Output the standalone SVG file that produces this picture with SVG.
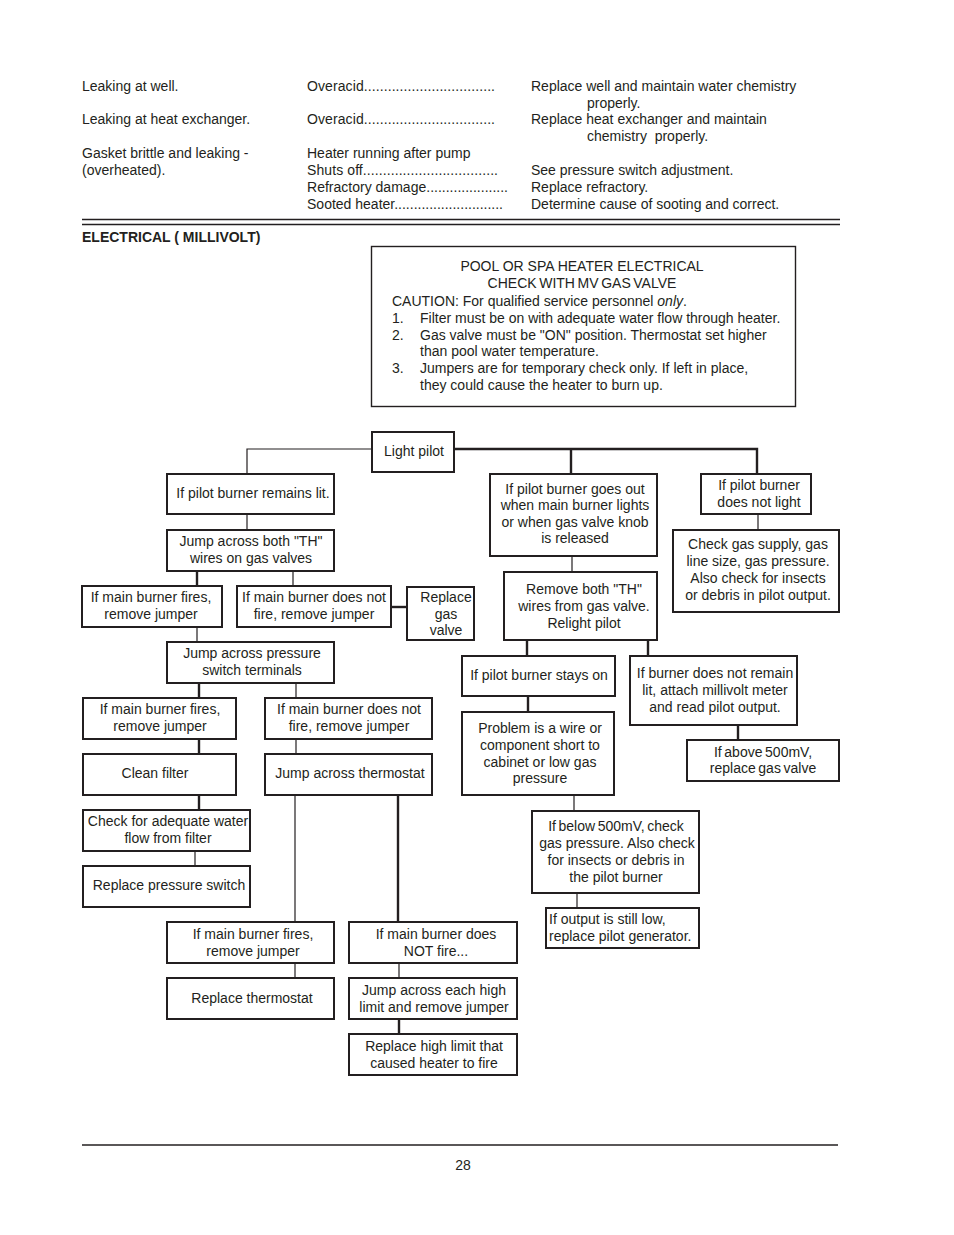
<svg xmlns="http://www.w3.org/2000/svg" width="954" height="1235" viewBox="0 0 954 1235">
<style>
text{font-family:"Liberation Sans",Arial,sans-serif;font-size:14px;fill:#231f20}
.c{text-anchor:middle}
.b{font-weight:bold}
.n rect{fill:#fff;stroke:#231f20;stroke-width:2}
.k{fill:none;stroke:#231f20;stroke-width:1.2}
.t{fill:none;stroke:#231f20;stroke-width:2.4}
.r{stroke:#231f20;stroke-width:1.4}
.nar{word-spacing:-1.3px}
</style>
<rect width="954" height="1235" fill="#fff"/>
<g id="table">
<text x="82" y="91">Leaking at well.</text>
<text x="307" y="91" textLength="188" lengthAdjust="spacing">Overacid.................................</text>
<text x="531" y="91">Replace well and maintain water chemistry</text>
<text x="587" y="108">properly.</text>
<text x="82" y="124">Leaking at heat exchanger.</text>
<text x="307" y="124" textLength="188" lengthAdjust="spacing">Overacid.................................</text>
<text x="531" y="124">Replace heat exchanger and maintain</text>
<text x="587" y="141" xml:space="preserve">chemistry  properly.</text>
<text x="82" y="158">Gasket brittle and leaking -</text>
<text x="82" y="175">(overheated).</text>
<text x="307" y="158">Heater running after pump</text>
<text x="307" y="175" textLength="191" lengthAdjust="spacing">Shuts off..................................</text>
<text x="307" y="192" textLength="201" lengthAdjust="spacing">Refractory damage.....................</text>
<text x="307" y="209" textLength="196" lengthAdjust="spacing">Sooted heater............................</text>
<text x="531" y="175">See pressure switch adjustment.</text>
<text x="531" y="192">Replace refractory.</text>
<text x="531" y="209">Determine cause of sooting and correct.</text>
<line class="r" x1="82" y1="219.5" x2="840" y2="219.5"/>
<line class="r" x1="82" y1="224.5" x2="840" y2="224.5"/>
<text x="82" y="242" class="b">ELECTRICAL ( MILLIVOLT)</text>
</g>
<g id="caution">
<rect x="371.5" y="246.5" width="424" height="160" fill="#fff" stroke="#231f20" stroke-width="1.4"/>
<text x="582" y="271" class="c">POOL OR SPA HEATER ELECTRICAL</text>
<text x="582" y="288" class="c nar">CHECK WITH MV GAS VALVE</text>
<text x="392" y="306">CAUTION: For qualified service personnel <tspan font-style="italic">only</tspan>.</text>
<text x="392" y="323">1.</text><text x="420" y="323">Filter must be on with adequate water flow through heater.</text>
<text x="392" y="340">2.</text><text x="420" y="340">Gas valve must be "ON" position. Thermostat set higher</text>
<text x="420" y="356">than pool water temperature.</text>
<text x="392" y="373">3.</text><text x="420" y="373">Jumpers are for temporary check only. If left in place,</text>
<text x="420" y="390">they could cause the heater to burn up.</text>
</g>
<g id="connectors">
<path class="k" d="M371 449H247V474"/>
<path class="t" d="M454 449H757V474M571 449V474"/>
<path class="k" d="M247 514V530"/>
<path class="t" d="M197 571V586"/>
<path class="k" d="M293 571V586"/>
<path class="t" d="M391 607H407"/>
<path class="k" d="M197 627V642"/>
<path class="t" d="M199 683V698"/>
<path class="k" d="M296 683V698"/>
<path class="t" d="M199 739V754"/>
<path class="k" d="M296 739V754"/>
<path class="t" d="M199 795V810"/>
<path class="k" d="M195 851V866"/>
<path class="k" d="M295 795V922"/>
<path class="t" d="M398 795V922"/>
<path class="k" d="M295 963V978"/>
<path class="k" d="M399 963V978"/>
<path class="t" d="M399 1019V1034"/>
<path class="k" d="M572 556V572"/>
<path class="t" d="M527 640V656M648 640V656"/>
<path class="t" d="M528 696V712"/>
<path class="k" d="M574 795V810"/>
<path class="k" d="M577 893V908"/>
<path class="t" d="M738 725V740"/>
<path class="k" d="M758 514V530"/>
</g>
<g id="light-pilot" class="n"><rect x="372" y="432" width="82" height="40"/><text x="414" y="456" class="c">Light pilot</text></g>
<g id="remains-lit" class="n"><rect x="167" y="474" width="167" height="40"/><text x="253" y="498" class="c">If pilot burner remains lit.</text></g>
<g id="jump-th" class="n"><rect x="167" y="530" width="167" height="41"/><text x="251" y="546" class="c">Jump across both "TH"</text><text x="251" y="563" class="c">wires on gas valves</text></g>
<g id="fires-1" class="n"><rect x="82" y="586" width="140" height="41"/><text x="151" y="602" class="c">If main burner fires,</text><text x="151" y="619" class="c">remove jumper</text></g>
<g id="notfire-1" class="n"><rect x="237" y="586" width="154" height="41"/><text x="314" y="602" class="c">If main burner does not</text><text x="314" y="619" class="c">fire, remove jumper</text></g>
<g id="replace-valve" class="n"><rect x="407" y="587" width="67" height="53"/><text x="446" y="602" class="c">Replace</text><text x="446" y="619" class="c">gas</text><text x="446" y="635" class="c">valve</text></g>
<g id="jump-pressure" class="n"><rect x="167" y="642" width="167" height="41"/><text x="252" y="658" class="c">Jump across pressure</text><text x="252" y="675" class="c">switch terminals</text></g>
<g id="fires-2" class="n"><rect x="83" y="698" width="153" height="41"/><text x="160" y="714" class="c">If main burner fires,</text><text x="160" y="731" class="c">remove jumper</text></g>
<g id="notfire-2" class="n"><rect x="265" y="698" width="167" height="41"/><text x="349" y="714" class="c">If main burner does not</text><text x="349" y="731" class="c">fire, remove jumper</text></g>
<g id="clean-filter" class="n"><rect x="83" y="754" width="153" height="41"/><text x="155" y="778" class="c">Clean filter</text></g>
<g id="jump-thermostat" class="n"><rect x="265" y="754" width="167" height="41"/><text x="350" y="778" class="c">Jump across thermostat</text></g>
<g id="check-flow" class="n"><rect x="83" y="810" width="167" height="41"/><text x="168" y="826" class="c">Check for adequate water</text><text x="168" y="843" class="c">flow from filter</text></g>
<g id="replace-pswitch" class="n"><rect x="83" y="866" width="167" height="41"/><text x="169" y="890" class="c">Replace pressure switch</text></g>
<g id="fires-3" class="n"><rect x="167" y="922" width="167" height="41"/><text x="253" y="939" class="c">If main burner fires,</text><text x="253" y="956" class="c">remove jumper</text></g>
<g id="notfire-3" class="n"><rect x="349" y="922" width="168" height="41"/><text x="436" y="939" class="c">If main burner does</text><text x="436" y="956" class="c">NOT fire...</text></g>
<g id="replace-thermostat" class="n"><rect x="167" y="978" width="167" height="41"/><text x="252" y="1003" class="c">Replace thermostat</text></g>
<g id="jump-highlimit" class="n"><rect x="349" y="978" width="168" height="41"/><text x="434" y="995" class="c">Jump across each high</text><text x="434" y="1012" class="c">limit and remove jumper</text></g>
<g id="replace-highlimit" class="n"><rect x="349" y="1034" width="168" height="41"/><text x="434" y="1051" class="c">Replace high limit that</text><text x="434" y="1068" class="c">caused heater to fire</text></g>
<g id="goes-out" class="n"><rect x="490" y="474" width="167" height="82"/><text x="575" y="494" class="c">If pilot burner goes out</text><text x="575" y="510" class="c">when main burner lights</text><text x="575" y="527" class="c">or when gas valve knob</text><text x="575" y="543" class="c">is released</text></g>
<g id="remove-th" class="n"><rect x="504" y="572" width="153" height="68"/><text x="584" y="594" class="c">Remove both "TH"</text><text x="584" y="611" class="c">wires from gas valve.</text><text x="584" y="628" class="c">Relight pilot</text></g>
<g id="stays-on" class="n"><rect x="462" y="656" width="153" height="40"/><text x="539" y="680" class="c">If pilot burner stays on</text></g>
<g id="problem" class="n"><rect x="462" y="712" width="152" height="83"/><text x="540" y="733" class="c">Problem is a wire or</text><text x="540" y="750" class="c">component short to</text><text x="540" y="767" class="c">cabinet or low gas</text><text x="540" y="783" class="c">pressure</text></g>
<g id="below-500" class="n"><rect x="532" y="811" width="167" height="82"/><text x="616" y="831" class="c nar">If below 500mV, check</text><text x="617" y="848" class="c">gas pressure. Also check</text><text x="616" y="865" class="c">for insects or debris in</text><text x="616" y="882" class="c">the pilot burner</text></g>
<g id="still-low" class="n"><rect x="546" y="908" width="153" height="40"/><text x="549" y="924">If output is still low,</text><text x="549" y="941">replace pilot generator.</text></g>
<g id="not-remain" class="n"><rect x="630" y="656" width="167" height="69"/><text x="715" y="678" class="c">If burner does not remain</text><text x="715" y="695" class="c">lit, attach millivolt meter</text><text x="715" y="712" class="c">and read pilot output.</text></g>
<g id="above-500" class="n"><rect x="687" y="740" width="152" height="41"/><text x="763" y="757" class="c nar">If above 500mV,</text><text x="763" y="773" class="c nar">replace gas valve</text></g>
<g id="not-light" class="n"><rect x="701" y="474" width="110" height="40"/><text x="759" y="490" class="c">If pilot burner</text><text x="759" y="507" class="c">does not light</text></g>
<g id="check-gas" class="n"><rect x="673" y="530" width="166" height="82"/><text x="758" y="549" class="c">Check gas supply, gas</text><text x="758" y="566" class="c">line size, gas pressure.</text><text x="758" y="583" class="c">Also check for insects</text><text x="758" y="600" class="c">or debris in pilot output.</text></g>
<g id="footer">
<line class="r" x1="82" y1="1145" x2="838" y2="1145"/>
<text x="463" y="1170" class="c">28</text>
</g>
</svg>
